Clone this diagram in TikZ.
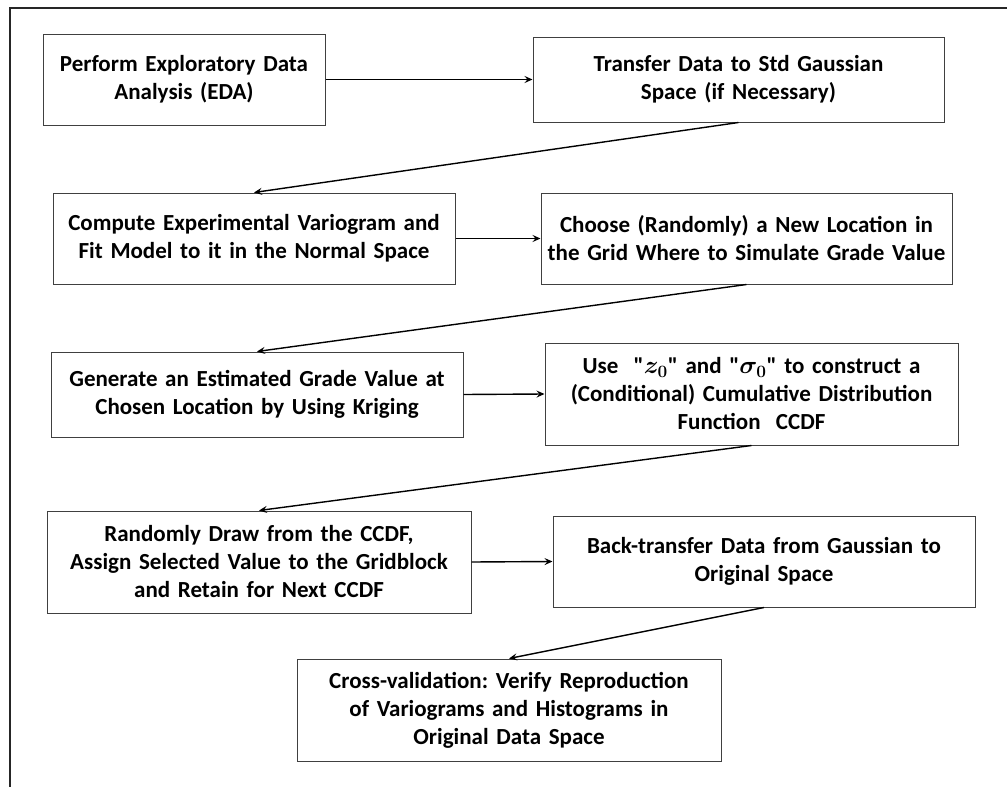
\documentclass[tikz,border=0pt]{standalone}
\usepackage{fontspec}
\setmainfont{Carlito}[Ligatures=TeXOff]
\usetikzlibrary{arrows.meta}
\frenchspacing
\tikzset{
  stepbox/.style={draw=black!75, line width=1pt, fill=white, align=center, inner sep=0pt,
    font=\fontsize{23}{28}\selectfont\bfseries},
  conn/.style={draw=black, line width=1.4pt, -{Stealth[length=8pt,width=7pt,inset=3pt]}}
}
\newcommand{\bx}[7]{% name, cx, cy, w, h, text
  \node[stepbox, minimum width=#4pt, minimum height=#5pt, text width=#4pt-4pt] (#1) at (#2,#3) {#6};}
\begin{document}
\begin{tikzpicture}[x=1pt,y=-1pt]
\useasboundingbox (0,0) rectangle (1007,787);
\draw[line width=1.5pt, black!85] (10,787) -- (10,8) -- (1007,8);
\bx{b1}{184}{79.5}{282}{91}{Perform Exploratory Data\\Analysis (EDA)}{}
\bx{b2}{738.5}{79.5}{411}{85}{Transfer Data to Std Gaussian\\Space (if Necessary)\\[4pt]}{}
\bx{b3}{254}{238.5}{402}{91}{Compute Experimental Variogram and\\Fit Model to it in the Normal Space}{}
\bx{b4}{746.5}{238.5}{411}{91}{Choose (Randomly) a New Location in\\the Grid Where to Simulate Grade Value}{}
\bx{b5}{257}{394.5}{412}{85}{Generate an Estimated Grade Value at\\Chosen Location by Using Kriging}{}
\bx{b6}{751.5}{394}{413}{102}{Use \ "{\boldmath$z_0$}" and "{\boldmath$\sigma_0$}" to construct a\\(Conditional) Cumulative Distribution\\Function \ CCDF}{}
\bx{b7}{259}{562}{424}{102}{Randomly Draw from the CCDF,\\Assign Selected Value to the Gridblock\\and Retain for Next CCDF}{}
\bx{b8}{764}{561.5}{422}{91}{Back-transfer Data from Gaussian to\\Original Space\\[6pt]}{}
\bx{b9}{509}{710}{424}{102}{Cross-validation: Verify Reproduction\\of Variograms and Histograms in\\Original Data Space}{}
\draw[conn] (b1.east) -- (b2.west);
\draw[conn] (b2.south) -- (b3.north);
\draw[conn] (b3.east) -- (b4.west);
\draw[conn] (b4.south) -- (b5.north);
\draw[conn] (b5.east) -- (b6.west);
\draw[conn] (b6.south) -- (b7.north);
\draw[conn] (b7.east) -- (b8.west);
\draw[conn] (b8.south) -- (b9.north);
\end{tikzpicture}
\end{document}
